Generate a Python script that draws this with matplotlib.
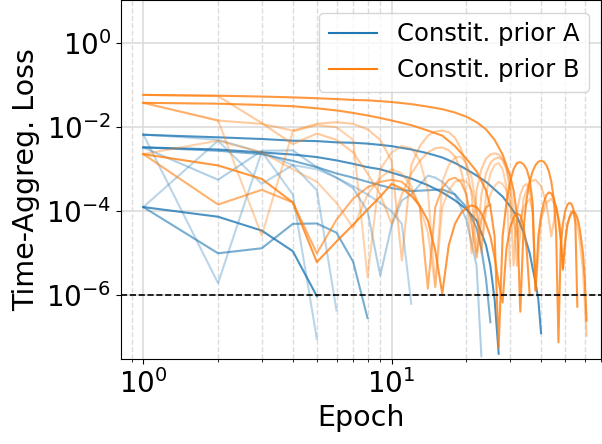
import numpy as np
import matplotlib
matplotlib.use("Agg")
import matplotlib.pyplot as plt
from matplotlib.lines import Line2D
from matplotlib.ticker import FixedLocator, NullLocator, LogLocator

# values are log10(loss) at the given epochs

# --- Constit. prior A (blue)
a1_ep = [1, 2, 3, 4, 5, 6, 7, 8, 9, 10, 12, 14, 16, 18, 20, 22, 24, 26, 28, 30, 32, 34, 36, 38, 39, 40]
a1_lg = [-2.18, -2.24, -2.28, -2.32, -2.33, -2.36, -2.37, -2.39, -2.42, -2.45, -2.53, -2.62, -2.72, -2.85,
         -3.0, -3.15, -3.3, -3.48, -3.65, -3.88, -4.12, -4.5, -5.0, -5.7, -6.1, -6.9]
a2_ep = [1, 2, 3, 4, 5, 6, 7, 8, 9, 10, 12, 14, 16, 18, 20, 22, 24, 25, 26, 27]
a2_lg = [-2.48, -2.53, -2.60, -2.65, -2.71, -2.79, -2.87, -2.95, -3.0, -3.08, -3.22, -3.38, -3.55, -3.74,
         -3.95, -4.22, -4.8, -5.3, -6.1, -7.39]
a3_ep = [1, 2, 3, 4, 5]
a3_lg = [-3.90, -4.13, -4.46, -4.95, -6.02]
a4_ep = [1, 2, 3, 4, 5, 6, 7, 8]
a4_lg = [-3.90, -5.0, -4.88, -4.30, -4.29, -4.51, -5.2, -6.54]
a5_ep = [1, 2, 3, 4, 5, 6, 7, 8, 9, 10, 12, 14, 16, 18, 20, 22, 23, 24, 25]
a5_lg = [-2.48, -2.56, -2.64, -2.8, -2.95, -3.1, -3.2, -3.3, -3.38, -3.45, -3.52, -3.5, -3.48, -3.6,
         -3.9, -4.4, -4.9, -5.6, -6.64]
a6_ep = [1, 2, 3, 4, 5]
a6_lg = [-2.17, -5.71, -2.58, -3.6, -7.04]
a7_ep = [1, 2, 3, 4, 5, 6]
a7_lg = [-3.90, -2.32, -3.35, -2.9, -3.5, -6.36]
a8_ep = [1, 2, 3, 4, 5, 6, 7, 8, 9, 10, 11, 12, 14, 15, 16, 18, 20, 22, 23]
a8_lg = [-2.48, -3.25, -2.56, -2.55, -2.95, -3.2, -3.45, -4.0, -5.53, -4.34, -3.74, -3.6, -3.15, -3.2,
         -3.3, -3.6, -4.2, -5.3, -7.45]
a9_ep = [1, 2, 3, 4, 5, 6, 7, 8, 9, 10, 11, 12]
a9_lg = [-2.17, -2.3, -2.6, -2.9, -3.0, -3.2, -3.4, -3.6, -3.8, -4.0, -4.3, -6.2]

# --- Constit. prior B (orange)
b1_ep = [1, 2, 3, 4, 5, 6, 7, 8, 9, 10, 12, 14, 16, 18, 20, 22, 24, 26, 28, 30, 31, 32, 33,
         34, 35, 36, 37, 38, 39, 40, 41, 42, 43, 44, 45, 46, 47,
         48, 49, 50, 51, 52, 53, 54, 55, 56]
b1_lg = [-1.23, -1.25, -1.27, -1.29, -1.31, -1.33, -1.35, -1.36, -1.38, -1.40, -1.45, -1.51, -1.57, -1.65,
         -1.75, -1.88, -2.05, -2.3, -2.65, -3.15, -3.5, -4.1, -6.39,
         -4.4, -3.7, -3.3, -3.05, -2.9, -2.82, -2.8, -2.82, -2.9, -3.05, -3.3, -3.7, -4.5, -7.12,
         -4.8, -4.3, -4.0, -3.85, -3.8, -3.82, -3.95, -4.3, -6.27]
b2_ep = [1, 2, 3, 4, 5, 6, 7, 8, 9, 10, 12, 14, 16, 18, 20, 22, 24, 25, 26, 27,
         28, 29, 30, 31, 32, 33, 34, 35, 36, 37, 38,
         39, 40, 41, 42, 43, 44, 45, 46, 47, 48, 49,
         50, 51, 52, 53, 54, 55, 56, 57, 58, 59, 60, 61]
b2_lg = [-1.42, -1.44, -1.47, -1.50, -1.55, -1.60, -1.66, -1.72, -1.78, -1.84, -1.95, -2.08, -2.2, -2.45,
         -2.75, -3.05, -3.5, -3.9, -4.6, -7.24,
         -4.6, -3.8, -3.3, -3.0, -2.85, -2.83, -2.88, -3.0, -3.25, -3.8, -5.88,
         -4.6, -4.1, -3.8, -3.62, -3.55, -3.58, -3.7, -3.9, -4.2, -4.7, -5.37,
         -4.7, -4.35, -4.15, -4.05, -4.0, -4.05, -4.15, -4.35, -4.65, -5.0, -5.6, -6.6]
b3_ep = list(range(1, 37))
b3_lg = [-2.64, -2.91, -3.23, -3.79, -5.21, -4.72, -4.32, -3.96, -3.65, -3.35, -3.46, -3.63, -3.87, -4.22,
         -4.94, -5.96, -4.8, -4.3, -4.05, -3.92, -3.86, -3.9, -4.05, -4.3, -4.6, -5.1, -5.7, -6.17,
         -4.9, -4.4, -4.15, -4.05, -4.1, -4.35, -4.9, -6.0]
b4_ep = [1, 2, 3, 4, 5, 6, 7, 8, 9, 10, 11, 12, 13, 14, 15, 16, 17, 18, 19, 20, 21, 22,
         23, 24, 25, 26, 27, 28, 29, 30, 31, 32, 33, 34, 35, 36, 37, 38,
         40, 42, 44, 46, 48, 49, 51, 53, 55, 57, 59, 61]
b4_lg = [-1.42, -1.84, -1.92, -2.08, -1.92, -1.88, -1.92, -2.05, -2.3, -2.8, -5.17, -2.9, -2.45, -2.2,
         -2.1, -2.08, -2.12, -2.25, -2.5, -2.9, -3.6, -4.97,
         -3.6, -3.1, -2.85, -2.75, -2.72, -2.78, -3.0, -3.5, -5.29, -4.0, -3.6, -3.4, -3.35, -3.5, -4.0, -5.88,
         -4.2, -3.8, -3.7, -3.9, -4.5, -5.37, -4.3, -4.0, -4.1, -4.6, -5.4, -6.96]
b5_ep = [1, 2, 3, 4, 5, 6, 7, 8, 9, 10, 11, 12, 13, 14, 15, 16, 17, 18, 19, 20, 21, 22, 23, 24, 25]
b5_lg = [-2.64, -3.84, -3.49, -3.79, -5.0, -4.2, -3.7, -3.43, -3.3, -3.25, -3.3, -3.5, -3.9, -5.84,
         -3.9, -3.45, -3.25, -3.2, -3.3, -3.6, -4.3, -5.1, -4.2, -3.9, -3.85]
b6_ep = [1, 2, 3, 4, 5, 6, 7, 8, 9, 10, 11, 12, 13, 14, 15, 16, 17, 18, 19, 20,
         21, 22, 23, 24, 25, 26, 27, 28, 29, 30]
b6_lg = [-1.42, -1.84, -4.58, -2.1, -1.95, -2.0, -2.3, -5.57, -3.0, -2.6, -2.45, -2.5, -2.8, -3.5,
         -5.8, -3.3, -2.9, -2.72, -2.7, -2.85,
         -3.2, -3.9, -5.0, -3.6, -3.1, -2.9, -2.85, -3.0, -3.4, -5.3]
b7_ep = [1, 2, 3, 4, 5, 6, 7, 8, 9, 10, 11, 12, 13, 14, 15, 16, 17, 18, 19, 20, 21, 22, 23, 24,
         25, 26, 27, 28, 29, 30, 32, 34, 36, 37, 38]
b7_lg = [-2.64, -2.32, -2.6, -3.0, -3.3, -3.8, -4.4, -3.6, -3.2, -3.0, -3.1, -3.4, -3.9, -4.5,
         -5.8, -3.9, -3.5, -3.3, -3.25, -3.3, -3.5, -4.0, -4.9, -4.0,
         -3.6, -3.4, -3.3, -3.35, -3.5, -3.8, -4.6, -3.9, -3.7, -4.0, -5.9]
b8_ep = [1, 2, 3, 4, 5, 6, 7, 8, 9, 10, 11, 12, 13, 14, 15, 16, 17, 18, 19, 20, 21, 22, 23, 24,
         25, 26, 27, 28, 29, 30, 31, 32, 34, 36, 38, 40, 42, 44, 46, 48, 49]
b8_lg = [-1.23, -1.26, -1.9, -2.4, -2.15, -2.3, -2.6, -3.1, -3.6, -4.3, -3.6, -3.1, -2.8, -2.6,
         -2.5, -2.48, -2.55, -2.7, -3.0, -3.6, -5.0, -3.5, -3.0, -2.75,
         -2.65, -2.62, -2.65, -2.75, -2.95, -3.3, -4.0, -5.3, -3.7, -3.3, -3.25, -3.4, -3.8, -4.6, -3.9,
         -4.4, -5.4]

x_ticks = [1, 10]
y_ticks = [1e-6, 1e-4, 1e-2, 1e0]

fig, ax = plt.subplots(figsize=(6.02, 4.44), dpi=100)
fig.subplots_adjust(left=0.201, right=0.999, top=0.999, bottom=0.191)

blue_lines = [(a1_ep, a1_lg, 0.8), (a2_ep, a2_lg, 0.8), (a3_ep, a3_lg, 0.8), (a4_ep, a4_lg, 0.6),
              (a5_ep, a5_lg, 0.6), (a6_ep, a6_lg, 0.3), (a7_ep, a7_lg, 0.3), (a8_ep, a8_lg, 0.35),
              (a9_ep, a9_lg, 0.3)]
orange_lines = [(b1_ep, b1_lg, 0.8), (b2_ep, b2_lg, 0.8), (b3_ep, b3_lg, 0.8), (b4_ep, b4_lg, 0.4),
                (b5_ep, b5_lg, 0.6), (b6_ep, b6_lg, 0.35), (b7_ep, b7_lg, 0.35), (b8_ep, b8_lg, 0.4)]

for ep, lg, al in blue_lines:
    ax.plot(ep, 10.0 ** np.array(lg), color="C0", alpha=al, lw=1.5)
for ep, lg, al in orange_lines:
    ax.plot(ep, 10.0 ** np.array(lg), color="C1", alpha=al, lw=1.5)

ax.axhline(1e-6, color="k", ls="--", lw=1.2)

ax.set_xscale("log")
ax.set_yscale("log")
ax.set_xlim(0.813, 70)
ax.set_ylim(10 ** -7.52, 10 ** 1.017)
ax.xaxis.set_major_locator(FixedLocator(x_ticks))
ax.xaxis.set_minor_locator(LogLocator(base=10, subs=np.arange(2, 10)))
ax.yaxis.set_major_locator(FixedLocator(y_ticks))
ax.yaxis.set_minor_locator(NullLocator())
ax.grid(True, which="major", color="#dcdcdc", lw=1.2)
ax.grid(True, which="minor", axis="x", color="#dcdcdc", ls="--", lw=1.0)
ax.tick_params(labelsize=20)
ax.set_xlabel("Epoch", fontsize=20.5)
ax.set_ylabel("Time-Aggreg. Loss", fontsize=20.5)

handles = [Line2D([], [], color="C0", lw=1.5), Line2D([], [], color="C1", lw=1.5)]
ax.legend(handles, ["Constit. prior A", "Constit. prior B"], loc="upper right", fontsize=17.5)

fig.savefig("out.png", dpi=100)
